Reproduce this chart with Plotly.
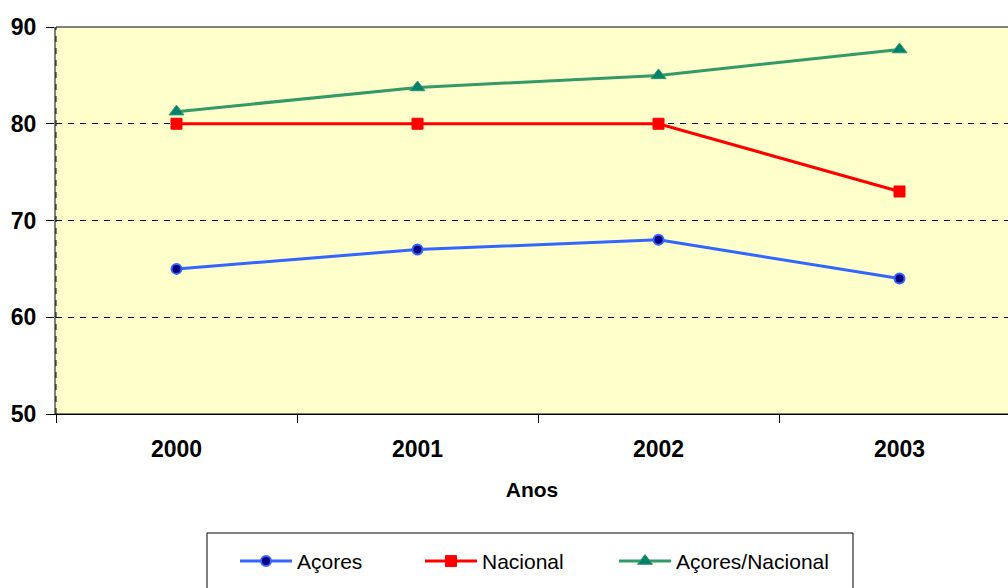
import plotly.graph_objects as go

years = ["2000", "2001", "2002", "2003"]
acores = [65, 67, 68, 64]
nacional = [80, 80, 80, 73]
acores_nacional = [81.25, 83.75, 85, 87.67]
y_ticks = [50, 60, 70, 80, 90]

FONT = "Liberation Sans, Arial, sans-serif"

fig = go.Figure()
fig.add_trace(go.Scatter(
    x=years, y=acores, name="Açores", mode="lines+markers", legend="legend",
    line=dict(color="#3366FF", width=3),
    marker=dict(symbol="circle", size=10, color="#000080", line=dict(color="#3366FF", width=2)),
))
fig.add_trace(go.Scatter(
    x=years, y=nacional, name="Nacional", mode="lines+markers", legend="legend2",
    line=dict(color="#FF0000", width=3),
    marker=dict(symbol="square", size=11, color="#FF0000", line=dict(color="#FF0000", width=1)),
))
fig.add_trace(go.Scatter(
    x=years, y=acores_nacional, name="Açores/Nacional", mode="lines+markers", legend="legend3",
    line=dict(color="#339966", width=3),
    marker=dict(symbol="triangle-up", size=13, color="#00806E", line=dict(color="#339966", width=1)),
))


def legend_at(xpx):
    return dict(
        orientation="h", x=(xpx - 56) / 952, xanchor="left", y=-0.328, yanchor="top",
        font=dict(family=FONT, size=21, color="black"),
        bgcolor="rgba(0,0,0,0)", borderwidth=0, itemwidth=52,
    )


fig.update_layout(
    width=1008, height=588,
    margin=dict(l=56, r=0, t=27, b=174, autoexpand=False),
    paper_bgcolor="white",
    plot_bgcolor="#FFFFCC",
    font=dict(family=FONT, color="black"),
    showlegend=True,
    legend=legend_at(235),
    legend2=legend_at(420),
    legend3=legend_at(614),
    xaxis=dict(
        type="category",
        range=[-0.5, -0.5 + 952 / 241],
        showline=True, linecolor="black", linewidth=1,
        ticks="outside", tickson="boundaries", ticklen=8, tickcolor="black", tickwidth=1,
        showgrid=False, zeroline=False,
        tickfont=dict(family=FONT, size=23, color="black", weight="bold"),
        ticklabelstandoff=14,
        title=dict(text="<b>Anos</b>", font=dict(family=FONT, size=21, color="black"), standoff=21),
    ),
    yaxis=dict(
        range=[50, 90], tickvals=y_ticks,
        showline=True, linecolor="#808080", linewidth=2,
        ticks="outside", ticklen=8, tickcolor="black", tickwidth=1,
        showgrid=True, gridcolor="black", gridwidth=1, griddash="6px,6px",
        zeroline=False,
        tickfont=dict(family=FONT, size=23, color="black", weight="bold"),
        ticklabelstandoff=5,
    ),
)

# plot-area border on top and dashed inner left line, plus legend box
fig.add_shape(type="line", xref="paper", yref="paper", x0=0, x1=1, y0=1, y1=1,
              line=dict(color="#808080", width=2), layer="above")
fig.add_shape(type="line", xref="paper", yref="paper", x0=0, x1=0, y0=0, y1=1,
              line=dict(color="black", width=1, dash="6px,6px"), layer="above")
fig.add_shape(type="line", xref="paper", yref="paper", x0=0, x1=1, y0=0, y1=0,
              line=dict(color="black", width=1), layer="above")
fig.add_shape(type="rect", xref="paper", yref="paper",
              x0=(207 - 56) / 952, x1=(853 - 56) / 952,
              y0=(414 - 600) / 387, y1=(414 - 533) / 387,
              line=dict(color="black", width=1), fillcolor="rgba(0,0,0,0)")

fig.write_html(
    "out.html",
    config={"displayModeBar": False},
    post_script="document.body.style.margin='0';document.body.style.overflow='hidden';",
)
